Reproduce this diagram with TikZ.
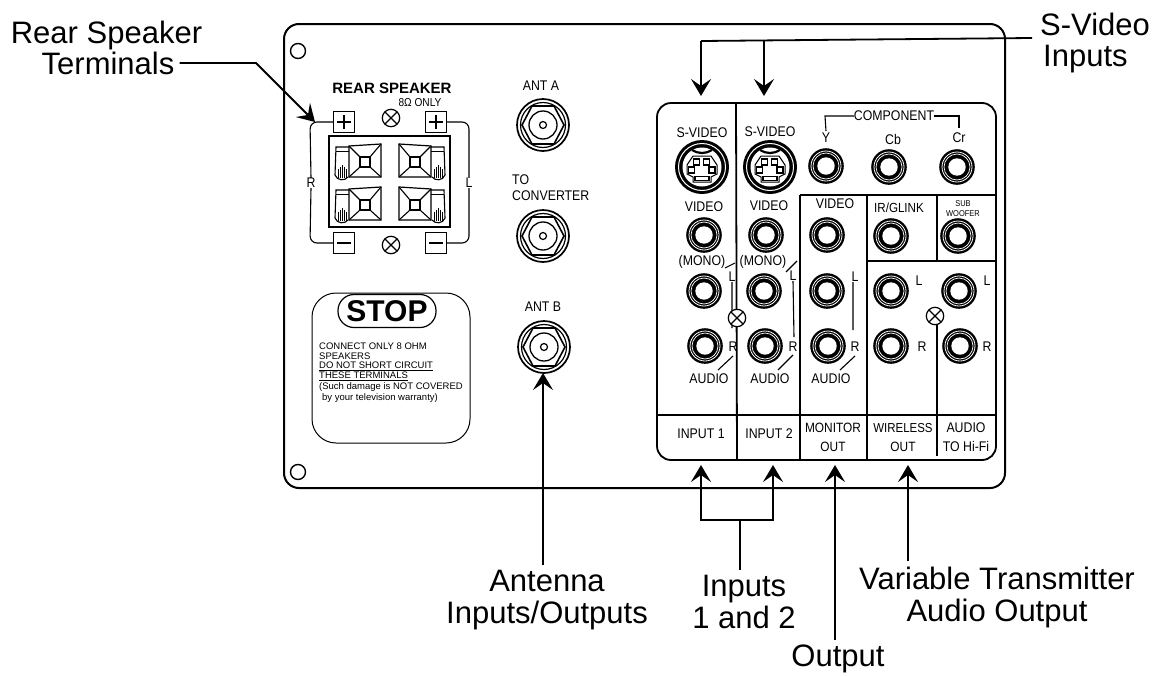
\documentclass[tikz,border=0pt]{standalone}
\usepackage{fontspec}
\setmainfont{Liberation Sans}
\newfontfamily\panelfont[FakeStretch=0.88]{Liberation Sans}
\newcommand{\panelsize}[1]{\panelfont\fontsize{#1}{#1}\selectfont}
\usetikzlibrary{arrows.meta}
\tikzset{
  biglbl/.style={inner sep=0pt, align=center, font=\fontsize{31}{32}\selectfont},
  lbl/.style={inner sep=0pt, font=\panelsize{14}},
  finelbl/.style={inner sep=0pt, anchor=west, font=\fontsize{9.5}{10}\selectfont},
  tiptip/.style={-{Stealth[length=17pt,width=20pt,inset=7pt]}},
  callout/.style={line width=1.8pt, tiptip},
  panelline/.style={line width=1.8pt},
  thinline/.style={line width=1.1pt},
  termbox/.style={draw, line width=1.1pt, minimum size=21pt, inner sep=0pt}
}
% round socket with two rings
\newcommand{\jackplug}[2]{
  \fill (#1,#2) circle (17.8);
  \draw[white, line width=0.8pt] (#1,#2) circle (15);
  \draw[white, line width=0.7pt] (#1,#2) circle (13);
  \fill[white] (#1,#2) circle (8.7);
}
% s-video socket
\newcommand{\svideo}[2]{
  \begin{scope}[shift={(#1,#2)}]
    \fill (0,0) circle (27);
    \draw[white, line width=1pt] (0,0) circle (23.5);
    \fill[white] (0,0) circle (19.5);
    \draw[line width=1pt] (-15,-2) -- (-15,7) -- (-9,10) -- (-9,15) -- (9,15) -- (9,10) -- (15,7) -- (15,-2) -- (9,-11) -- (-9,-11) -- cycle;
    \draw[line width=2.2pt] (-10,-17) .. controls (-4,-13) and (4,-13) .. (10,-17);
    \draw[line width=1.3pt] (-8.5,-8) rectangle (-2.5,-2) (1.5,-8) rectangle (7.5,-2) (-13.5,0) rectangle (-7.5,6) (7,0) rectangle (13,6);
    \draw[line width=1.3pt] (-7,9.5) rectangle (7,13.5);
  \end{scope}
}
% antenna connector
\newcommand{\antenna}[2]{
  \begin{scope}[shift={(#1,#2)}]
    \draw[line width=1.7pt] (0,0) circle (26);
    \draw[line width=1.2pt] (0,0) circle (22.5);
    \draw[line width=1.6pt] (-21,0) -- (-11,-19) -- (11,-19) -- (21,0) -- (11,19) -- (-11,19) -- cycle;
    \draw[line width=1.3pt] (0,0) circle (14);
    \draw[line width=1.2pt] (0,0) circle (3.5);
  \end{scope}
}
% speaker clamp, #3 is 1 or -1 for the side of the lever
\newcommand{\clampunit}[3]{
  \begin{scope}[shift={(#1,#2)}, xscale=#3]
    \draw[line width=1.2pt] (-16,-16) -- (16,-18) -- (16,15) -- (-16,15) -- cycle;
    \draw[line width=1.1pt] (-5,-5) rectangle (5,5);
    \draw[line width=1.1pt] (-16,-16) -- (-5,-5) (16,-18) -- (5,-5) (16,15) -- (5,5) (-16,15) -- (-5,5);
    \draw[line width=1.1pt] (-16,-15) -- (-29,-15) -- (-30,13) .. controls (-28,19) and (-20,19) .. (-17,15);
    \draw[line width=0.9pt] (-29,-11) -- (-16,-11);
    \foreach \h in {-27,-25,-23,-21,-19} {
      \draw[line width=0.8pt] (\h,16) -- (\h,{3+abs(\h+23)});
    }
  \end{scope}
}
\newcommand{\crossmark}[2]{
  \draw[line width=1.2pt, fill=white] (#1,#2) circle (8.7);
  \draw[line width=1.2pt] (#1-6.1,#2-6.1) -- (#1+6.1,#2+6.1) (#1-6.1,#2+6.1) -- (#1+6.1,#2-6.1);
}
\begin{document}
\begin{tikzpicture}[x=1pt, y=-1pt]
  \useasboundingbox (0,0) rectangle (1157,675);

  % back panel
  \draw[line width=2pt, rounded corners=15] (284,24) rectangle (1005,488);
  \draw[line width=1.4pt] (298,51) circle (7.5);
  \draw[line width=1.4pt] (298,472) circle (7.5);

  % rear speaker terminals
  \node[inner sep=0pt, font=\fontsize{15}{16}\selectfont\bfseries] (rearname) at (392,88) {REAR SPEAKER};
  \node[lbl, font=\panelsize{11.5}] (ohms) at (420,102.5) {8Ω ONLY};
  \draw[line width=1.2pt] (329,136) rectangle (450,227);
  \clampunit{365}{162}{1}
  \clampunit{415}{162}{-1}
  \clampunit{365}{205}{1}
  \clampunit{415}{205}{-1}
  \node[termbox] (plusr) at (344,122) {};
  \node[termbox] (plusl) at (436,122) {};
  \node[termbox] (minusr) at (344,243) {};
  \node[termbox] (minusl) at (436,243) {};
  \draw[line width=1.1pt] (337,122) -- (351,122) (344,115) -- (344,129) (429,122) -- (443,122) (436,115) -- (436,129);
  \draw[line width=1.1pt] (337,243) -- (351,243) (429,243) -- (443,243);
  \crossmark{391}{118}
  \crossmark{391}{245}
  \node[lbl] (rearr) at (311,183) {R};
  \node[lbl] (rearl) at (469,183) {L};
  \draw[thinline, rounded corners=7] (plusr.west) -- (310,122) -- (rearr.north);
  \draw[thinline, rounded corners=7] (rearr.south) -- (310,243) -- (minusr.west);
  \draw[thinline, rounded corners=7] (plusl.east) -- (469,122) -- (rearl.north);
  \draw[thinline, rounded corners=7] (rearl.south) -- (469,243) -- (minusl.east);

  % stop label
  \draw[line width=1pt, rounded corners=24] (312,293) rectangle (470,443);
  \node[draw, rounded corners=16, line width=1.2pt, minimum width=98pt, minimum height=33pt, inner sep=0pt, font=\fontsize{30}{32}\selectfont\bfseries] (stopsign) at (387,311) {STOP};
  \node[finelbl] (stop1) at (319,346) {CONNECT ONLY 8 OHM};
  \node[finelbl] (stop2) at (319,356) {SPEAKERS};
  \node[finelbl] (stop3) at (319,366) {\underline{DO NOT SHORT CIRCUIT}};
  \node[finelbl] (stop4) at (319,376) {\underline{THESE TERMINALS}};
  \node[finelbl] (stop5) at (319,387) {(Such damage is NOT COVERED};
  \node[finelbl] (stop6) at (322,398) {by your television warranty)};

  % antenna connectors
  \node[lbl] (anta) at (541,86) {ANT A};
  \antenna{543}{125}
  \node[lbl, anchor=west] (toconv) at (512,180) {TO};
  \node[lbl, anchor=west] (conv) at (512,196) {CONVERTER};
  \antenna{543}{236}
  \node[lbl] (antb) at (543,307) {ANT B};
  \antenna{544}{347}

  % jack field
  \draw[panelline, rounded corners=14] (657,103) rectangle (996,460);
  \draw[panelline] (736,103) -- (737,460);
  \draw[panelline] (657,415) -- (996,415);
  \draw[panelline] (800,195) -- (996,195);
  \draw[panelline] (867,261) -- (996,261);
  \draw[panelline] (800,195) -- (800,460);
  \draw[panelline] (867,195) -- (867,460);
  \draw[panelline] (937,195) -- (937,261) (937,320) -- (937,456);

  \svideo{702}{167}
  \svideo{770}{167}
  \foreach \cx/\cy in {826/166, 889/167, 957/167,
      704/235, 766/235, 827/235, 891/236, 958/236,
      704/291, 764/291, 827/291, 891/291, 959/291,
      705/346, 765/346, 828/346, 891/346, 960/346} {
    \jackplug{\cx}{\cy}
  }

  \node[lbl] (svidone) at (702,133) {S-VIDEO};
  \node[lbl] (svidtwo) at (770,132) {S-VIDEO};
  \node[lbl] (compname) at (894,116) {COMPONENT};
  \node[lbl] (compy) at (826,138) {Y};
  \node[lbl] (compb) at (893,139) {Cb};
  \node[lbl] (compr) at (959,138) {Cr};
  \draw[thinline] (compy.north) ++(0,-2) -- (825,116) -- (compname.west);
  \draw[thinline] (compname.east) -- (959,116) -- (959,128);

  \node[lbl] (vidone) at (704,207) {VIDEO};
  \node[lbl] (vidtwo) at (769,206) {VIDEO};
  \node[lbl] (vidmon) at (835,204) {VIDEO};
  \node[lbl, font=\panelsize{13.2}] (irglink) at (899,208) {IR/GLINK};
  \node[lbl, font=\panelsize{8.5}] (subw) at (963,204) {SUB};
  \node[lbl, font=\panelsize{8.5}] (woof) at (963,214) {WOOFER};

  \node[lbl] (monoone) at (702,262) {(MONO)};
  \node[lbl] (monotwo) at (763,262) {(MONO)};
  \node[lbl] (lone) at (732,277) {L};
  \node[lbl] (ltwo) at (793,276) {L};
  \node[lbl] (lmon) at (855,277) {L};
  \node[lbl] (lwire) at (919,281) {L};
  \node[lbl] (lhifi) at (987,281) {L};
  \node[lbl] (rone) at (733,347) {R};
  \node[lbl] (rtwo) at (793,347) {R};
  \node[lbl] (rmon) at (855,347) {R};
  \node[lbl] (rwire) at (922,347) {R};
  \node[lbl] (rhifi) at (987,347) {R};
  \node[lbl] (audone) at (709,379) {AUDIO};
  \node[lbl] (audtwo) at (770,379) {AUDIO};
  \node[lbl] (audmon) at (831,379) {AUDIO};
  \draw[thinline] (725,268) -- (735,263) (786,272) -- (797,261);
  \draw[thinline] (lone.south) -- (732,328) (ltwo.south) -- (794,337) (lmon.south) ++(-2,0) -- (853,330);
  \draw[thinline] (718,370) -- (733,356) (778,370) -- (793,355) (840,370) -- (855,356);
  \crossmark{737}{318}
  \crossmark{935}{316}

  \node[lbl] (inone) at (701,434) {INPUT 1};
  \node[lbl] (intwo) at (769,434) {INPUT 2};
  \node[lbl, font=\panelsize{13.5}] (monout) at (833,428) {MONITOR};
  \node[lbl, font=\panelsize{13.5}] (monoutb) at (833,447) {OUT};
  \node[lbl, font=\panelsize{13}] (wireout) at (903,428) {WIRELESS};
  \node[lbl, font=\panelsize{13.5}] (wireoutb) at (903,447) {OUT};
  \node[lbl] (hifi) at (966,428) {AUDIO};
  \node[lbl] (hifib) at (966,446) {TO Hi-Fi};

  % callouts
  \node[biglbl] (rearone) at (106.5,35) {Rear Speaker};
  \node[biglbl] (reartwo) at (108,63) {Terminals};
  \coordinate (rearbend) at (256,63);
  \coordinate (reartip) at (315,122);
  \draw[callout] (reartwo.east) ++(5,0) -- (rearbend) -- (reartip);

  \node[biglbl, anchor=west] (svone) at (1040,24) {S-Video};
  \node[biglbl, anchor=west] (svtwo) at (1043,59) {Inputs};
  \coordinate (svend) at (1032,38);
  \coordinate (svcorner) at (701,41);
  \coordinate (svbranch) at (764,41);
  \coordinate (svtipa) at (701,96);
  \coordinate (svtipb) at (764,96);
  \draw[line width=1.8pt] (svend) -- (svcorner);
  \draw[callout] (svcorner) -- (svtipa);
  \draw[callout] (svbranch) -- (svtipb);

  \node[biglbl] (antlbl) at (547,600) {Antenna\\Inputs/Outputs};
  \coordinate (anttip) at (543,373);
  \draw[callout] (antlbl.north -| anttip) ++(0,-5) -- (anttip);

  \node[biglbl] (inlbl) at (744,602) {Inputs\\1 and 2};
  \coordinate (inleft) at (701,520);
  \coordinate (inright) at (773,520);
  \coordinate (inmid) at (740,520);
  \coordinate (intipa) at (701,465);
  \coordinate (intipb) at (773,465);
  \draw[line width=1.8pt] (inlbl.north -| inmid) ++(0,-5) -- (inmid);
  \draw[callout] (inmid) -- (inleft) -- (intipa);
  \draw[callout] (inmid) -- (inright) -- (intipb);

  \node[biglbl] (outlbl) at (838,659) {Output};
  \coordinate (outtip) at (835,465);
  \draw[callout] (outlbl.north -| outtip) ++(0,-5) -- (outtip);

  \node[biglbl] (varlbl) at (997,597) {Variable Transmitter\\Audio Output};
  \coordinate (vartip) at (908,465);
  \draw[callout] (varlbl.north -| vartip) ++(0,-5) -- (vartip);
\end{tikzpicture}
\end{document}
